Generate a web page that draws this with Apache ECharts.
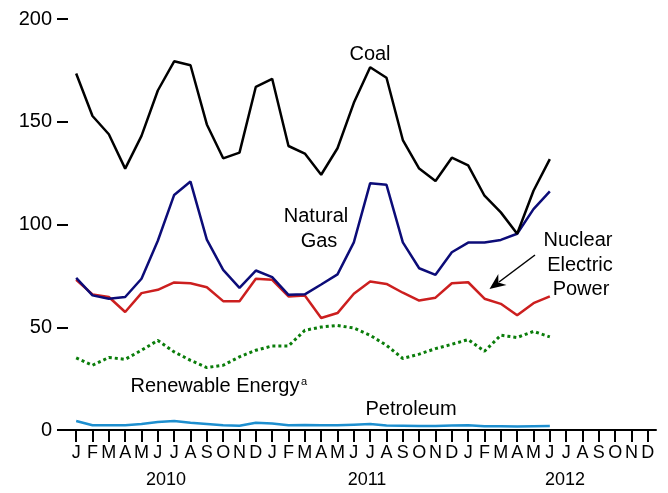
<!DOCTYPE html>
<html><head><meta charset="utf-8">
<script src="https://cdn.jsdelivr.net/npm/echarts@6/dist/echarts.min.js"></script>
<style>html,body{margin:0;padding:0;background:#fff}#c{width:668px;height:493px}</style>
</head><body><div id="c"></div>
<script>
const monthLetters = ['J','F','M','A','M','J','J','A','S','O','N','D'];
const months = monthLetters.concat(monthLetters, monthLetters);
const years = ['2010','2011','2012'];
const yTicks = [0, 50, 100, 150, 200];
const coal = [173.5,152.8,143.9,127.2,143.1,165.2,179.4,177.5,148.7,132.2,135,167,170.9,138.2,134.5,124.2,137.1,159.2,176.5,171.4,141.1,127.2,121.2,132.5,128.8,114,105.9,95.5,116.4,131.8];
const naturalGas = [74,65.5,63.9,64.7,73.6,92.1,114.4,120.9,92.6,77.9,69.2,77.6,74.4,65.8,66,70.8,75.7,91.3,120.1,119.3,91.3,78.7,75.5,86.5,91.2,91.2,92.5,95.5,107.5,116.1];
const nuclear = [73.1,66,64.7,57.4,66.6,68.2,71.8,71.4,69.5,62.7,62.6,73.6,73.1,65,65.5,54.5,56.9,66.3,72.3,71.1,66.8,63,64.4,71.4,71.9,63.9,61.4,55.8,61.7,65];
const renewable = [35.1,31.5,35.3,34.4,38.8,43.6,38,33.9,30.4,31.5,35.6,38.8,40.9,40.9,48.5,50.1,50.9,49.6,46.1,41.2,34.8,36.9,39.6,41.7,44,38.3,46.1,45,48,45.3];
const petroleum = [4.4,2.3,2.3,2.3,2.9,3.9,4.4,3.5,2.9,2.3,2.1,3.5,3.2,2.3,2.4,2.3,2.3,2.6,2.9,2.2,2.1,2.0,2.0,2.2,2.3,1.8,1.8,1.7,1.8,1.9];

const FONT = 'Liberation Sans, Arial, sans-serif';
const chart = echarts.init(document.getElementById('c'), null, {renderer: 'canvas'});

function mkLine(name, data, color, extra) {
  return Object.assign({
    name, type: 'line', data, symbol: 'none', smooth: false, animation: false,
    lineStyle: {color, width: 2.5}
  }, extra || {});
}

const txt = (x, y, text, size, align) => ({
  type: 'text', x, y, silent: true,
  style: {text, fill: '#000', font: (size || 20) + 'px ' + FONT, textAlign: align || 'center', textVerticalAlign: 'middle'}
});

chart.setOption({
  animation: false,
  backgroundColor: '#fff',
  grid: {left: 68, right: 12, top: 19, bottom: 63, containLabel: false},
  xAxis: {
    type: 'category', data: months, boundaryGap: true,
    axisLine: {show: true, lineStyle: {color: '#000', width: 2}},
    axisTick: {show: true, alignWithLabel: true, interval: 0, length: 12, lineStyle: {color: '#000', width: 2}},
    axisLabel: {interval: 0, color: '#000', fontFamily: FONT, fontSize: 18, margin: 14},
    splitLine: {show: false}
  },
  yAxis: {
    type: 'value', min: yTicks[0], max: yTicks[yTicks.length - 1], interval: 50,
    axisLine: {show: false},
    axisTick: {show: true, length: 11, lineStyle: {color: '#000', width: 2}},
    axisLabel: {color: '#000', fontFamily: FONT, fontSize: 20, margin: 16},
    splitLine: {show: false}
  },
  series: [
    mkLine('Petroleum', petroleum, '#1e8fcf'),
    mkLine('Renewable Energy', renewable, '#0a7d0a', {lineStyle: {color: '#0a7d0a', width: 3, type: [3, 3]}}),
    mkLine('Nuclear Electric Power', nuclear, '#cc1f1f'),
    mkLine('Natural Gas', naturalGas, '#0c0c78'),
    mkLine('Coal', coal, '#000000')
  ],
  graphic: [
    txt(166, 480, years[0], 18),
    txt(367, 480, years[1], 18),
    txt(565, 480, years[2], 18),
    txt(370, 54, 'Coal'),
    txt(316, 216, 'Natural'),
    txt(319, 241, 'Gas'),
    txt(578, 240, 'Nuclear'),
    txt(580, 265, 'Electric'),
    txt(581, 289, 'Power'),
    txt(215, 386, 'Renewable Energy'),
    txt(301, 382, 'a', 11, 'left'),
    txt(411, 409, 'Petroleum'),
    {type: 'line', silent: true, shape: {x1: 535, y1: 255, x2: 499, y2: 282}, style: {stroke: '#000', lineWidth: 1.5}},
    {type: 'polygon', silent: true, shape: {points: [[489.5, 289], [506.5, 285.1], [498.4, 282.5], [498.3, 273.9]]}, style: {fill: '#000'}}
  ]
});
</script>
</body></html>
